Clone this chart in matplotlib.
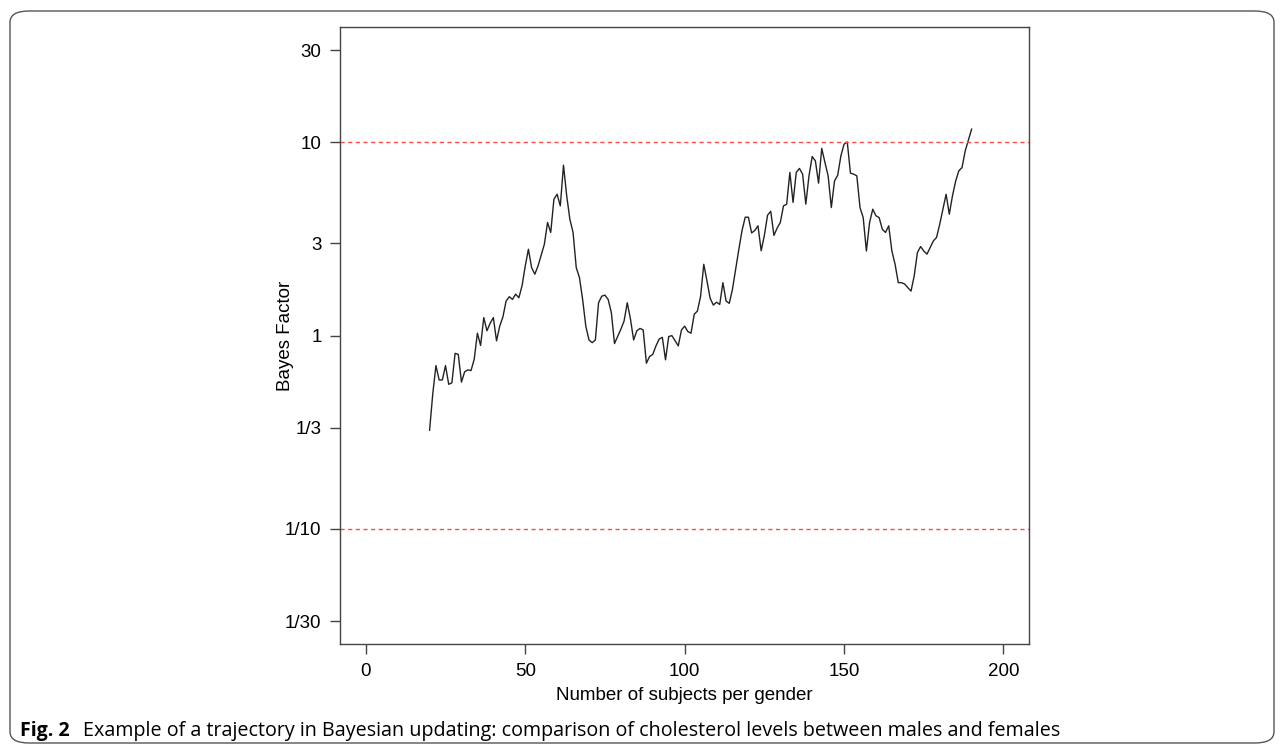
import matplotlib
matplotlib.use("Agg")
import matplotlib.pyplot as plt
import matplotlib.patches as mpatches
import numpy as np

plt.rcParams['font.family'] = ['Liberation Sans', 'DejaVu Sans']

# number of subjects per gender
n_subjects = list(range(20, 191))

# Bayes factor trajectory, one value per subject count
bayes_factor = [
    0.324, 0.50, 0.70, 0.59, 0.59, 0.70, 0.56, 0.57, 0.81, 0.80,      # 20-29
    0.575, 0.65, 0.665, 0.66, 0.755, 1.03, 0.89, 1.24, 1.06, 1.16,    # 30-39
    1.24, 0.94, 1.12, 1.25, 1.51, 1.59, 1.54, 1.64, 1.57, 1.81,       # 40-49
    2.29, 2.80, 2.25, 2.08, 2.29, 2.61, 2.97, 3.85, 3.42, 5.08,       # 50-59
    5.39, 4.69, 7.62, 5.3, 4.0, 3.42, 2.25, 2.0, 1.54, 1.12,          # 60-69
    0.95, 0.92, 0.95, 1.48, 1.60, 1.62, 1.54, 1.32, 0.91, 0.99,       # 70-79
    1.08, 1.19, 1.48, 1.22, 0.95, 1.06, 1.09, 1.07, 0.72, 0.78,       # 80-89
    0.80, 0.885, 0.96, 0.98, 0.75, 0.99, 1.0, 0.94, 0.885, 1.07,      # 90-99
    1.12, 1.05, 1.03, 1.29, 1.34, 1.60, 2.34, 1.92, 1.56, 1.44,       # 100-109
    1.49, 1.45, 1.88, 1.51, 1.47, 1.74, 2.21, 2.80, 3.5, 4.1,         # 110-119
    4.1, 3.4, 3.5, 3.7, 2.75, 3.3, 4.2, 4.4, 3.3, 3.6,                # 120-129
    3.85, 4.69, 4.79, 6.99, 4.89, 6.99, 7.33, 6.85, 4.79, 6.71,       # 130-139
    8.45, 8.02, 6.15, 9.30, 7.87, 6.71, 4.60, 6.31, 6.76, 8.51,       # 140-149
    9.79, 10.05, 6.93, 6.85, 6.71, 4.60, 4.08, 2.74, 3.85, 4.51,      # 150-159
    4.17, 4.08, 3.55, 3.42, 3.70, 2.74, 2.34, 1.88, 1.88, 1.85,       # 160-169
    1.77, 1.70, 2.04, 2.69, 2.89, 2.74, 2.64, 2.86, 3.09, 3.22,       # 170-179
    3.77, 4.51, 5.39, 4.25, 5.29, 6.31, 7.13, 7.41, 9.04, 10.3,       # 180-189
    11.7,                                                             # 190
]

y_ticks = [1 / 30, 1 / 10, 1 / 3, 1, 3, 10, 30]
y_tick_labels = ["1/30", "1/10", "1/3", "1", "3", "10", "30"]
x_ticks = [0, 50, 100, 150, 200]
thresholds = [10, 1 / 10]

fig = plt.figure(figsize=(12.84, 7.51), dpi=100)

# rounded frame around the whole figure
frame = mpatches.FancyBboxPatch((10 / 1284, 8 / 751), 1264 / 1284, 732 / 751,
                                boxstyle="round,pad=0,rounding_size=0.015",
                                transform=fig.transFigure, fill=False,
                                ec="#555555", lw=1.0)
fig.patches.append(frame)

ax = fig.add_axes([340.3 / 1284, 1 - 644 / 751, (1029 - 340.3) / 1284, (644 - 27.3) / 751])

ax.plot(n_subjects, bayes_factor, color="#222222", lw=1.0)
for t in thresholds:
    ax.axhline(t, color="#ff4a4a", lw=1.0, ls=(0, (3, 2.5)))

ax.set_yscale("log")
lim = 10 ** (np.log10(30) * 1.08)
ax.set_ylim(1 / lim, lim)
ax.set_xlim(-8, 208)
ax.set_yticks(y_ticks)
ax.set_yticklabels(y_tick_labels)
ax.yaxis.set_minor_locator(matplotlib.ticker.NullLocator())
ax.set_xticks(x_ticks)

for s in ax.spines.values():
    s.set_color("#444444")
    s.set_linewidth(1.0)
ax.tick_params(axis="both", direction="out", length=7.5, width=1.0, color="#444444",
               labelsize=13.5, pad=6)

ax.set_xlabel("Number of subjects per gender", fontsize=13.5, va="center")
ax.set_ylabel("Bayes Factor", fontsize=13.5, va="center")
ax.xaxis.set_label_coords(0.5, -0.083)
ax.yaxis.set_label_coords(-0.080, 0.5)

# caption
fig.text(20 / 1284, 1 - 731 / 751, "Fig. 2", fontsize=14, fontweight="bold",
         va="center", ha="left", family=["Open Sans", "DejaVu Sans"])
fig.text(83 / 1284, 1 - 731 / 751,
         "Example of a trajectory in Bayesian updating: comparison of cholesterol levels between males and females",
         fontsize=14.2, va="center", ha="left", family=["Open Sans", "DejaVu Sans"])

fig.savefig("out.png", dpi=100)
